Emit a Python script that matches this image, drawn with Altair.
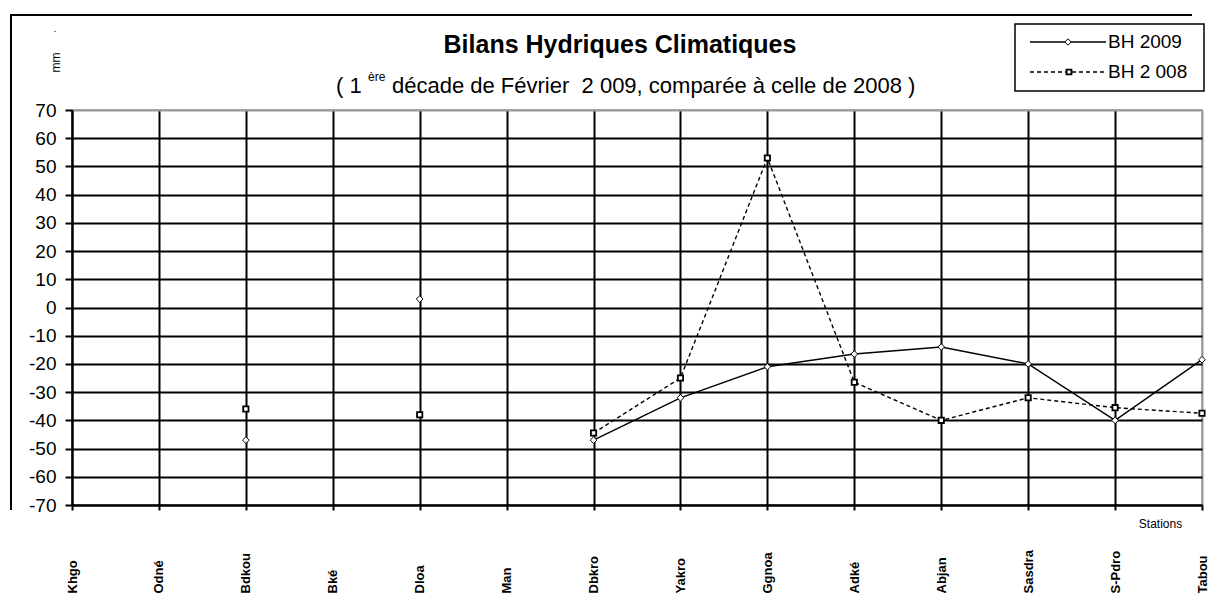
import altair as alt
import pandas as pd

# ---- data ----
stations = ["Khgo", "Odné", "Bdkou", "Bké", "Dloa", "Man", "Dbkro", "Yakro",
            "Ggnoa", "Adké", "Abjan", "Sasdra", "S-Pdro", "Tabou"]
bh2009 = [None, None, -47, None, 3, None, -47, -32, -21, -16.5, -14, -20, -40, -18.5]
bh2008 = [None, None, -36, None, -38, None, -44.5, -25, 53, -26.5, -40, -32, -35.5, -37.5]
y_ticks = list(range(-70, 71, 10))

FONT = "Liberation Sans"


def to_rows(name, values):
    rows, seg = [], 0
    for st, v in zip(stations, values):
        if v is None:
            seg += 1
            continue
        rows.append({"station": st, "series": name, "value": v, "seg": f"{name}-{seg}"})
    return rows


df09 = pd.DataFrame(to_rows("BH 2009", bh2009))
df08 = pd.DataFrame(to_rows("BH 2 008", bh2008))

x_enc = alt.X(
    "station:N", sort=stations,
    scale=alt.Scale(type="point", padding=0, domain=stations),
    axis=alt.Axis(
        title="Stations", titleX=1088, titleY=18, titleFontSize=12,
        titleFontWeight="normal", titleAlign="center", titleBaseline="middle",
        titleFont=FONT, titleColor="black",
        labelAngle=-90, labelAlign="left", labelBaseline="middle",
        labelPadding=83, labelFontSize=13, labelFontWeight="bold",
        labelFont=FONT, labelColor="black", labelOverlap=False,
        labelBound=False, labelFlush=False,
        domainColor="black", domainWidth=2,
        tickColor="black", tickSize=5, tickWidth=2,
        grid=True, gridWidth=2,
        gridColor={"condition": {"test": "datum.value == 'Tabou'", "value": "#9a9a9a"},
                   "value": "black"},
    ),
)

y_enc = alt.Y(
    "value:Q",
    scale=alt.Scale(domain=[-70, 70], nice=False, zero=False),
    axis=alt.Axis(
        values=y_ticks, title="mm", titleX=-17, titleY=-48, titleFontSize=12,
        titleFontWeight="normal", titleAlign="center", titleBaseline="middle",
        titleFont=FONT, titleColor="black",
        labelExpr="datum.value < 0 ? '-' + abs(datum.value) : '' + datum.value",
        labelFontSize=19, labelFont=FONT, labelColor="black", labelPadding=9,
        domainColor="black", domainWidth=2,
        tickColor="black", tickSize=7, tickWidth=2,
        grid=True, gridWidth=2,
        gridColor={"condition": {"test": "datum.value == 70", "value": "#9a9a9a"},
                   "value": "black"},
    ),
)

one = pd.DataFrame({"k": [0]})


def txt(text, x, y, size, weight="normal", align="left", baseline="alphabetic"):
    return alt.Chart(pd.DataFrame({"t": [text]})).mark_text(
        font=FONT, fontSize=size, fontWeight=weight, align=align,
        baseline=baseline, color="black"
    ).encode(x=alt.value(x), y=alt.value(y), text="t:N")


# outer chart frame (its right and bottom sides lie outside the picture)
border_top = alt.Chart(one).mark_rect(color="black", strokeWidth=0).encode(
    x=alt.value(-62), x2=alt.value(1120), y=alt.value(-96), y2=alt.value(-94))
border_left = alt.Chart(one).mark_rect(color="black", strokeWidth=0).encode(
    x=alt.value(-62), x2=alt.value(-60), y=alt.value(-96), y2=alt.value(400))

line09 = alt.Chart(df09).mark_line(color="black", strokeWidth=1.4).encode(
    x=x_enc, y=y_enc, detail="seg:N")
line08 = alt.Chart(df08).mark_line(color="black", strokeWidth=1.4, strokeDash=[4, 3]).encode(
    x=x_enc, y=y_enc, detail="seg:N")
pts09 = alt.Chart(df09).mark_point(
    shape="diamond", filled=True, fill="white", stroke="black",
    strokeWidth=1, size=45, opacity=1).encode(x=x_enc, y=y_enc)
pts08 = alt.Chart(df08).mark_point(
    shape="square", filled=True, fill="white", stroke="black",
    strokeWidth=1.8, size=28, opacity=1).encode(x=x_enc, y=y_enc)

# legend (drawn by hand, like the Excel one)
leg_box = alt.Chart(one).mark_rect(fill="white", stroke="black", strokeWidth=1.5).encode(
    x=alt.value(943), x2=alt.value(1132), y=alt.value(-86), y2=alt.value(-19))
leg_l1 = alt.Chart(one).mark_rule(color="black", strokeWidth=1.4).encode(
    x=alt.value(958), x2=alt.value(1034), y=alt.value(-68))
leg_l2 = alt.Chart(one).mark_rule(color="black", strokeWidth=1.4, strokeDash=[4, 3]).encode(
    x=alt.value(958), x2=alt.value(1034), y=alt.value(-38))
leg_p1 = alt.Chart(one).mark_point(
    shape="diamond", filled=True, fill="white", stroke="black",
    strokeWidth=1, size=40, opacity=1).encode(x=alt.value(996), y=alt.value(-68))
leg_p2 = alt.Chart(one).mark_point(
    shape="square", filled=True, fill="white", stroke="black",
    strokeWidth=1.8, size=24, opacity=1).encode(x=alt.value(997), y=alt.value(-38))
leg_t1 = txt("BH 2009", 1036, -68, 19, baseline="middle")
leg_t2 = txt("BH 2 008", 1036, -38, 19, baseline="middle")

title = txt("Bilans Hydriques Climatiques", 548, -57, 25, weight="bold", align="center")
sub1 = txt("( 1", 264, -17, 22)
sub2 = txt("ère", 296, -29, 12)
sub3 = txt("décade de Février\u00a0 2 009, comparée à celle de 2008 )", 320, -17, 22)
dot = txt(".", -17, -78, 10, align="center")

chart = alt.layer(
    border_top, border_left, line09, line08, pts09, pts08,
    leg_box, leg_l1, leg_l2, leg_p1, leg_p2, leg_t1, leg_t2,
    title, sub1, sub2, sub3, dot,
).properties(
    width=1130, height=395,
    padding={"left": 64, "top": 102, "right": 6, "bottom": 88},
    autosize=alt.AutoSizeParams(type="none"),
    background="white",
).configure_view(stroke="#9a9a9a", strokeWidth=1.5)

chart.save("out.html", embed_options={"renderer": "svg", "actions": False})
